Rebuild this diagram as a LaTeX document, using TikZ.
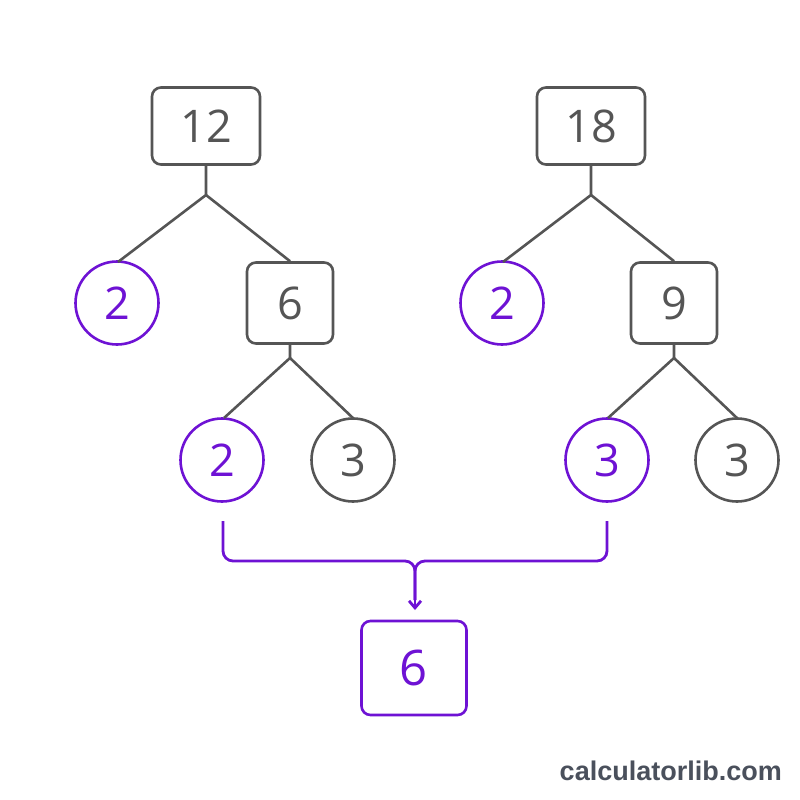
\documentclass[tikz,border=0pt]{standalone}
\usepackage{fontspec}
\setmainfont{Open Sans}
\newfontfamily\wmfont{Liberation Sans}
\usetikzlibrary{arrows.meta}
\definecolor{gr}{HTML}{555555}
\definecolor{pu}{HTML}{6E12D4}
\definecolor{wm}{HTML}{4A505C}
\begin{document}
\begin{tikzpicture}[x=1pt,y=-1pt,
  gbox/.style={draw=gr,line width=2.6pt,rounded corners=9pt,text=gr,minimum width=108pt,minimum height=77pt,font=\fontsize{45}{45}\selectfont,inner sep=0pt},
  sbox/.style={gbox,minimum width=86pt,minimum height=81pt},
  pbox/.style={gbox,draw=pu,text=pu,minimum width=105pt,minimum height=94pt,font=\fontsize{49}{49}\selectfont},
  gcirc/.style={circle,draw=gr,line width=2.6pt,text=gr,minimum size=83pt,inner sep=0pt,font=\fontsize{45}{45}\selectfont},
  pcirc/.style={gcirc,draw=pu,text=pu},
  edge/.style={draw=gr,line width=2.6pt},
  pedge/.style={draw=pu,line width=2.8pt,rounded corners=10pt}]
\useasboundingbox (0,0) rectangle (800,800);
\fill[white] (0,0) rectangle (800,800);
% left tree
\node[gbox] (a) at (206,126) {12};
\node[pcirc] (a1) at (117,303) {2};
\node[sbox] (a2) at (290,303) {6};
\node[pcirc] (a3) at (222,460) {2};
\node[gcirc] (a4) at (353,460) {3};
\coordinate (ja) at (206,195);
\coordinate (jb) at (290,358);
\draw[edge] (a.south) -- (ja) -- (118,262);
\draw[edge] (ja) -- (a2.north);
\draw[edge] (a2.south) -- (jb) -- (224,418);
\draw[edge] (jb) -- (354,419);
% right tree
\node[gbox] (b) at (591,126) {18};
\node[pcirc] (b1) at (502,303) {2};
\node[sbox] (b2) at (674,303) {9};
\node[pcirc] (b3) at (607,460) {3};
\node[gcirc] (b4) at (737,460) {3};
\coordinate (jc) at (591,195);
\coordinate (jd) at (674,358);
\draw[edge] (b.south) -- (jc) -- (503,262);
\draw[edge] (jc) -- (b2.north);
\draw[edge] (b2.south) -- (jd) -- (608,418);
\draw[edge] (jd) -- (738,419);
% result
\node[pbox] (r) at (414,668) {6};
\coordinate (l0) at (223,521);
\coordinate (r0) at (607,521);
\coordinate (m) at (415,561);
\draw[pedge] (l0) -- (223,561) -- (m) -- (415,600);
\draw[pedge] (r0) -- (607,561) -- (m) -- (415,600);
\draw[draw=pu,line width=2.8pt,-{Straight Barb[length=7pt,width=12pt]}] (415,590) -- (415,610);
% watermark
\node[anchor=east,text=wm,font=\wmfont\bfseries\fontsize{27}{27}\selectfont,inner sep=0pt] (w) at (782,771) {calculatorlib.com};
\end{tikzpicture}
\end{document}
